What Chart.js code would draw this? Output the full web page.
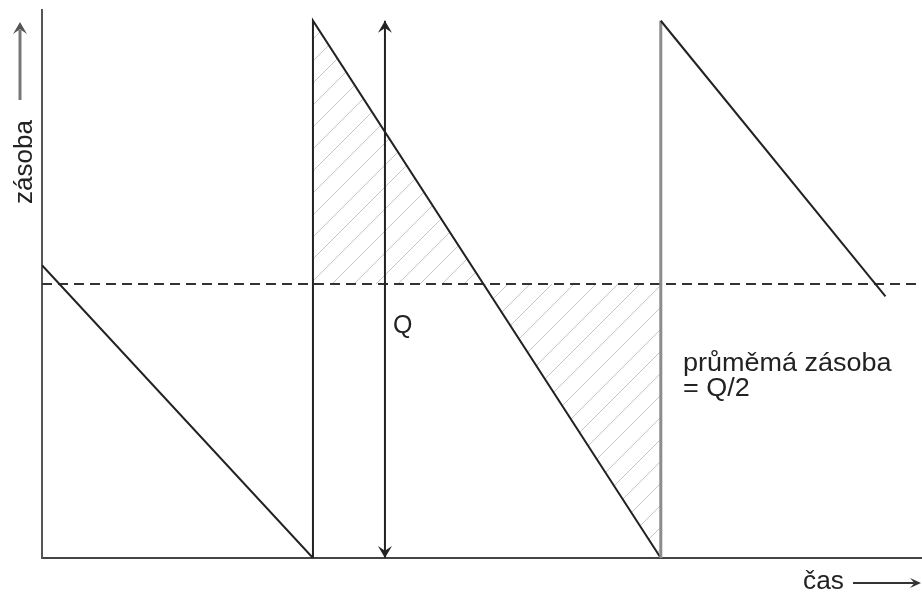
<!DOCTYPE html>
<html><head><meta charset="utf-8">
<script src="https://cdn.jsdelivr.net/npm/chart.js@4"></script>
<style>html,body{margin:0;padding:0;background:#fff}canvas{display:block}</style>
</head><body>
<canvas id="c" width="922" height="595"></canvas>
<script>
// ---- data (time units on x, stock units on y; Q = 100) ----
const casBody      = [0, 7.79, 7.79, 17.79, 17.79, 24.25];
const zasobaBody   = [54.5, 0, 100, 0, 100, 48.7];
const prumerCas    = [0, 25.3];
const prumerZasoba = [51, 51];
const srafCas      = [7.79, 17.79];
const srafZasoba   = [100, 0];
const qCas         = [9.86, 9.86];
const qZasoba      = [0, 100];
const osaYPopis    = 'zásoba';
const osaXPopis    = 'čas';
const qPopis       = 'Q';
const prumerPopis  = ['průměmá zásoba', '= Q/2'];

const toPts = (xs, ys) => xs.map((x, i) => ({x, y: ys[i]}));

function hatchPattern() {
  const s = 22, c = document.createElement('canvas');
  c.width = s; c.height = s;
  const g = c.getContext('2d');
  g.strokeStyle = '#c6c6c6'; g.lineWidth = 1;
  g.beginPath();
  g.moveTo(0, s); g.lineTo(s, 0);
  g.moveTo(-2, 2); g.lineTo(2, -2);
  g.moveTo(s - 2, s + 2); g.lineTo(s + 2, s - 2);
  g.stroke();
  return g.createPattern(c, 'repeat');
}

const FONT = '"Liberation Sans", Arial, sans-serif';

function arrowHead(ctx, x, y, dir, w, h) {
  ctx.beginPath();
  if (dir === 'up') {
    ctx.moveTo(x, y); ctx.lineTo(x - w, y + h); ctx.lineTo(x, y + h * 0.6); ctx.lineTo(x + w, y + h);
  } else if (dir === 'down') {
    ctx.moveTo(x, y); ctx.lineTo(x - w, y - h); ctx.lineTo(x, y - h * 0.6); ctx.lineTo(x + w, y - h);
  } else {
    ctx.moveTo(x, y); ctx.lineTo(x - h, y - w); ctx.lineTo(x - h * 0.6, y); ctx.lineTo(x - h, y + w);
  }
  ctx.closePath(); ctx.fill();
}

function wideText(ctx, txt, x, y, sx) {
  ctx.save(); ctx.translate(x, y); ctx.scale(sx, 1); ctx.fillText(txt, 0, 0); ctx.restore();
}

const annotations = {
  id: 'annotations',
  afterDraw(chart) {
    const ctx = chart.ctx;
    const xs = chart.scales.x, ys = chart.scales.y;
    ctx.save();
    ctx.fillStyle = '#222'; ctx.strokeStyle = '#222';
    // Q double arrow heads
    const qx = xs.getPixelForValue(qCas[0]);
    arrowHead(ctx, qx, ys.getPixelForValue(qZasoba[1]), 'up', 7, 12);
    arrowHead(ctx, qx, ys.getPixelForValue(qZasoba[0]), 'down', 7, 12);
    // texts
    ctx.textBaseline = 'alphabetic'; ctx.textAlign = 'left';
    ctx.font = '25px ' + FONT;
    wideText(ctx, qPopis, 393, 333, 1.0);
    wideText(ctx, prumerPopis[0], 683, 371, 1.08);
    wideText(ctx, prumerPopis[1], 683, 396, 1.08);
    // x axis label + arrow
    wideText(ctx, osaXPopis, 803, 589, 1.05);
    ctx.fillStyle = '#333'; ctx.strokeStyle = '#333'; ctx.lineWidth = 2;
    ctx.beginPath(); ctx.moveTo(853, 583); ctx.lineTo(914, 583); ctx.stroke();
    arrowHead(ctx, 921, 583, 'right', 5, 11);
    // y axis label + arrow
    ctx.save();
    ctx.translate(32, 204); ctx.rotate(-Math.PI / 2);
    ctx.fillStyle = '#222';
    ctx.scale(1.04, 1);
    ctx.fillText(osaYPopis, 0, 0);
    ctx.restore();
    ctx.fillStyle = '#555'; ctx.strokeStyle = '#777'; ctx.lineWidth = 3;
    ctx.beginPath(); ctx.moveTo(20, 100); ctx.lineTo(20, 30); ctx.stroke();
    arrowHead(ctx, 20, 22, 'up', 7, 12);
    ctx.restore();
  }
};

new Chart(document.getElementById('c'), {
  type: 'line',
  data: {
    datasets: [
      { label: 'šrafa', data: toPts(srafCas, srafZasoba), borderWidth: 0, pointRadius: 0,
        backgroundColor: hatchPattern(), fill: {value: prumerZasoba[0]}, order: 5 },
      { label: 'průměr', data: toPts(prumerCas, prumerZasoba), borderColor: '#333', borderWidth: 2,
        borderDash: [10, 6], pointRadius: 0, fill: false, order: 3 },
      { label: 'zásoba', data: toPts(casBody, zasobaBody), borderColor: '#222', borderWidth: 2,
        pointRadius: 0, fill: false, order: 1,
        segment: {
          borderColor: c => c.p0DataIndex === 3 ? '#8c8c8c' : '#222',
          borderWidth: c => c.p0DataIndex === 3 ? 3 : 2
        } },
      { label: 'Q', data: toPts(qCas, qZasoba), borderColor: '#222', borderWidth: 2,
        pointRadius: 0, fill: false, order: 2 }
    ]
  },
  options: {
    responsive: false, animation: false, devicePixelRatio: 1,
    layout: { padding: { left: 42, top: 10, right: 0, bottom: 37 } },
    plugins: { legend: { display: false }, tooltip: { enabled: false } },
    scales: {
      x: { type: 'linear', min: 0, max: 25.3,
           ticks: { display: false }, grid: { display: false, drawTicks: false },
           border: { display: true, color: '#444', width: 2 } },
      y: { type: 'linear', min: 0, max: 102,
           ticks: { display: false }, grid: { display: false, drawTicks: false },
           border: { display: true, color: '#555', width: 2 } }
    }
  },
  plugins: [annotations]
});
</script>
</body></html>
